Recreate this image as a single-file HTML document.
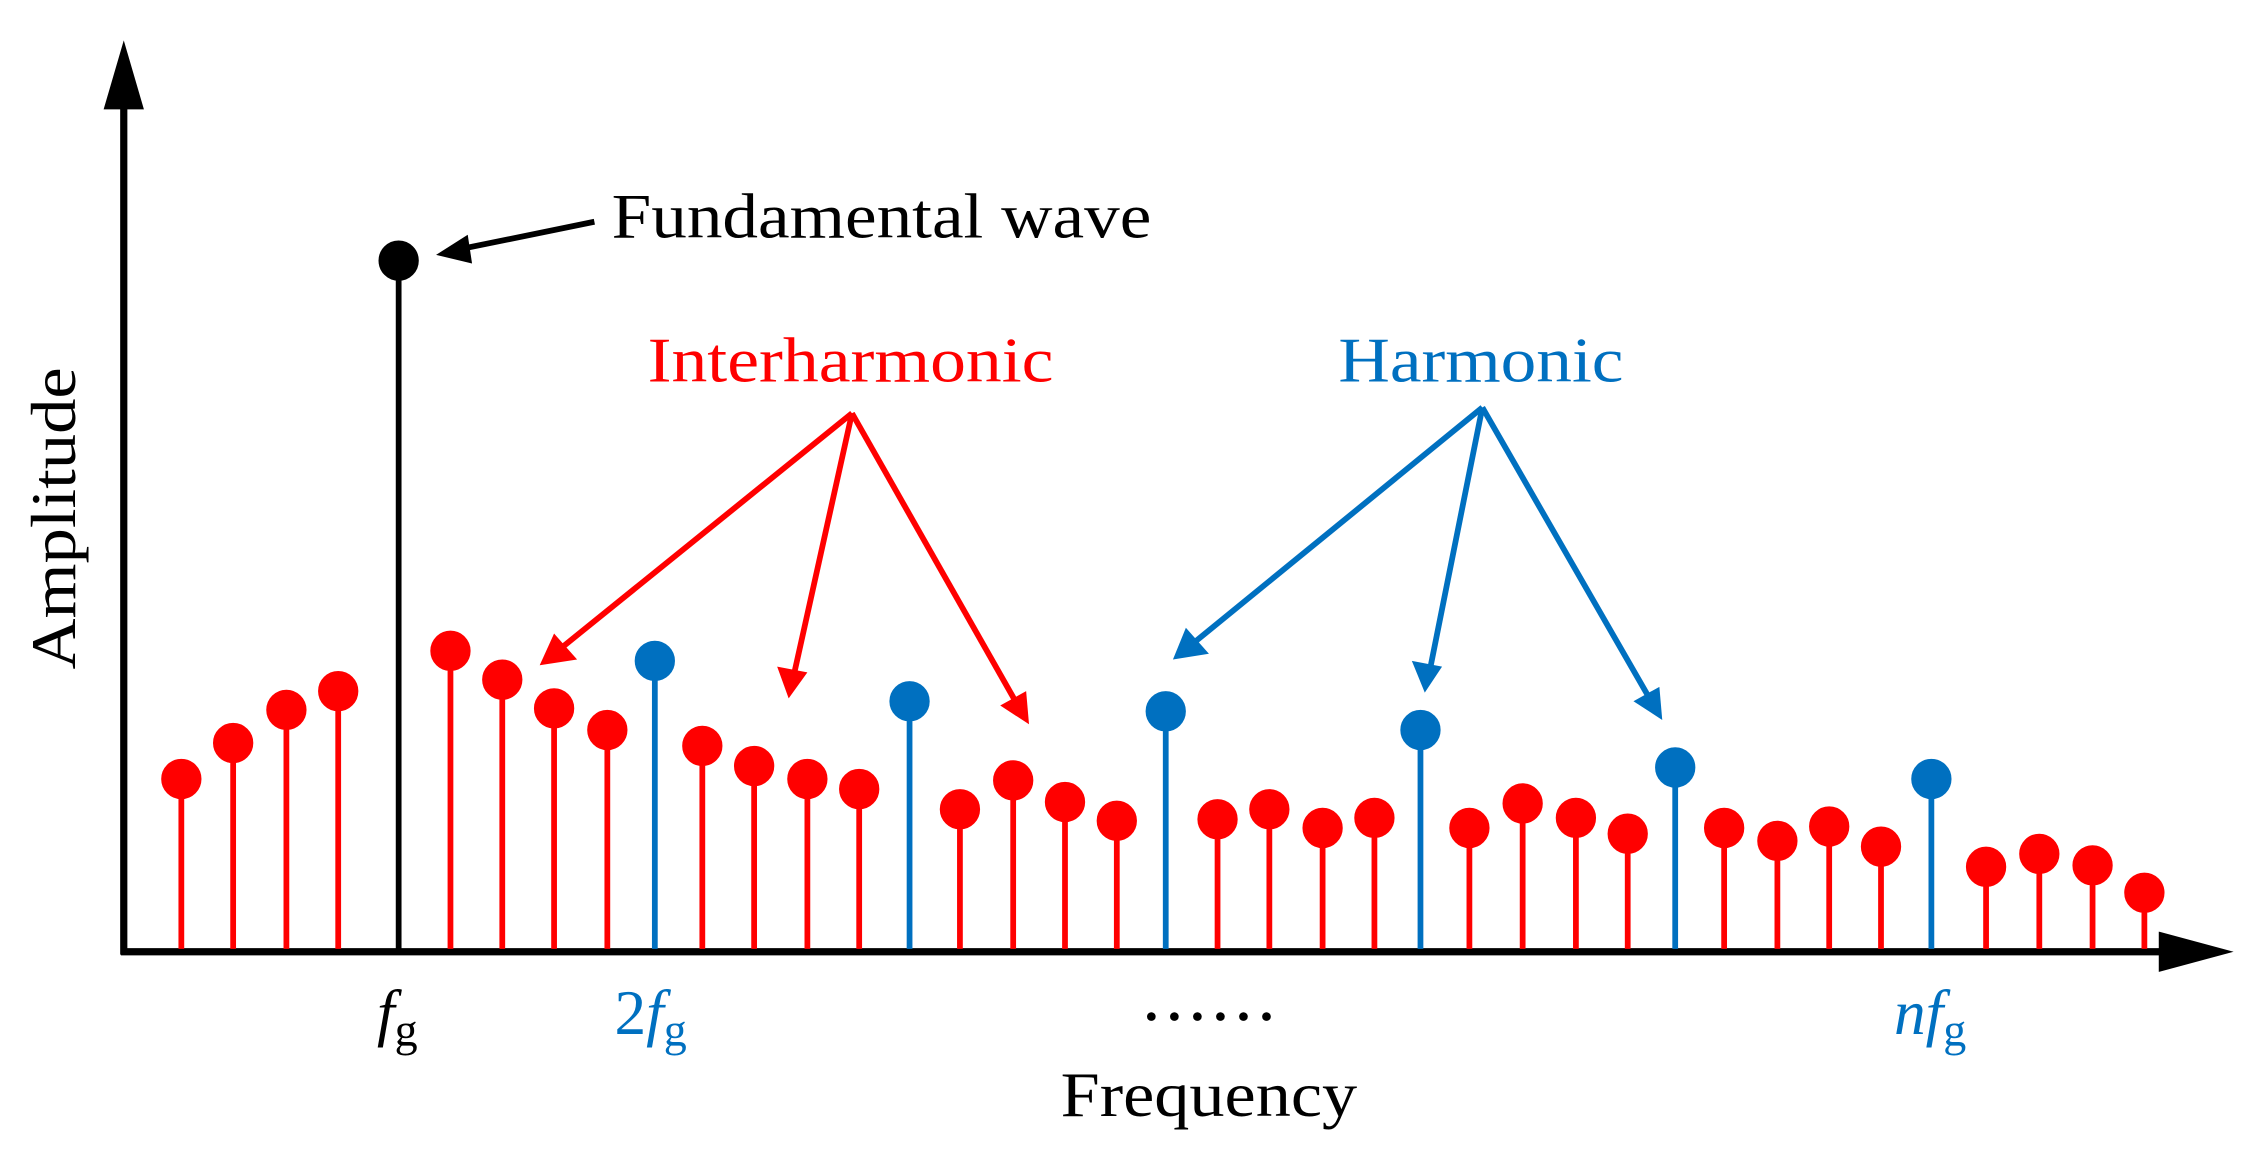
<!DOCTYPE html>
<html><head><meta charset="utf-8"><style>
html,body{margin:0;padding:0;background:#fff;}
svg{display:block;}
text{font-family:"Liberation Serif",serif;}
</style></head><body>
<svg width="2248" height="1162" viewBox="0 0 1562 807" preserveAspectRatio="none" xmlns="http://www.w3.org/2000/svg">
<!-- axes -->
<line x1="86" y1="70" x2="86" y2="663" stroke="#000" stroke-width="5"/>
<polygon points="86,28 72,76 100,76" fill="#000"/>
<line x1="84" y1="661" x2="1505" y2="661" stroke="#000" stroke-width="5"/>
<polygon points="1552,661 1500,647 1500,675" fill="#000"/>
<g stroke-width="4">
<g stroke="#ff0000" fill="#ff0000">
<line x1="126" y1="541" x2="126" y2="659"/><circle cx="126" cy="541" r="12"/>
<line x1="162" y1="516" x2="162" y2="659"/><circle cx="162" cy="516" r="12"/>
<line x1="199" y1="493" x2="199" y2="659"/><circle cx="199" cy="493" r="12"/>
<line x1="235" y1="480" x2="235" y2="659"/><circle cx="235" cy="480" r="12"/>
<line x1="313" y1="452" x2="313" y2="659"/><circle cx="313" cy="452" r="12"/>
<line x1="349" y1="472" x2="349" y2="659"/><circle cx="349" cy="472" r="12"/>
<line x1="385" y1="492" x2="385" y2="659"/><circle cx="385" cy="492" r="12"/>
<line x1="422" y1="507" x2="422" y2="659"/><circle cx="422" cy="507" r="12"/>
<line x1="488" y1="518" x2="488" y2="659"/><circle cx="488" cy="518" r="12"/>
<line x1="524" y1="532" x2="524" y2="659"/><circle cx="524" cy="532" r="12"/>
<line x1="561" y1="541" x2="561" y2="659"/><circle cx="561" cy="541" r="12"/>
<line x1="597" y1="548" x2="597" y2="659"/><circle cx="597" cy="548" r="12"/>
<line x1="667" y1="562" x2="667" y2="659"/><circle cx="667" cy="562" r="12"/>
<line x1="704" y1="542" x2="704" y2="659"/><circle cx="704" cy="542" r="12"/>
<line x1="740" y1="557" x2="740" y2="659"/><circle cx="740" cy="557" r="12"/>
<line x1="776" y1="570" x2="776" y2="659"/><circle cx="776" cy="570" r="12"/>
<line x1="846" y1="569" x2="846" y2="659"/><circle cx="846" cy="569" r="12"/>
<line x1="882" y1="562" x2="882" y2="659"/><circle cx="882" cy="562" r="12"/>
<line x1="919" y1="575" x2="919" y2="659"/><circle cx="919" cy="575" r="12"/>
<line x1="955" y1="568" x2="955" y2="659"/><circle cx="955" cy="568" r="12"/>
<line x1="1021" y1="575" x2="1021" y2="659"/><circle cx="1021" cy="575" r="12"/>
<line x1="1058" y1="558" x2="1058" y2="659"/><circle cx="1058" cy="558" r="12"/>
<line x1="1095" y1="568" x2="1095" y2="659"/><circle cx="1095" cy="568" r="12"/>
<line x1="1131" y1="579" x2="1131" y2="659"/><circle cx="1131" cy="579" r="12"/>
<line x1="1198" y1="575" x2="1198" y2="659"/><circle cx="1198" cy="575" r="12"/>
<line x1="1235" y1="584" x2="1235" y2="659"/><circle cx="1235" cy="584" r="12"/>
<line x1="1271" y1="574" x2="1271" y2="659"/><circle cx="1271" cy="574" r="12"/>
<line x1="1307" y1="588" x2="1307" y2="659"/><circle cx="1307" cy="588" r="12"/>
<line x1="1380" y1="602" x2="1380" y2="659"/><circle cx="1380" cy="602" r="12"/>
<line x1="1417" y1="593" x2="1417" y2="659"/><circle cx="1417" cy="593" r="12"/>
<line x1="1454" y1="601" x2="1454" y2="659"/><circle cx="1454" cy="601" r="12"/>
<line x1="1490" y1="620" x2="1490" y2="659"/><circle cx="1490" cy="620" r="12"/>
</g>
<g stroke="#0070c0" fill="#0070c0">
<line x1="455" y1="459" x2="455" y2="659"/><circle cx="455" cy="459" r="12"/>
<line x1="632" y1="487" x2="632" y2="659"/><circle cx="632" cy="487" r="12"/>
<line x1="810" y1="494" x2="810" y2="659"/><circle cx="810" cy="494" r="12"/>
<line x1="987" y1="507" x2="987" y2="659"/><circle cx="987" cy="507" r="12"/>
<line x1="1164" y1="533" x2="1164" y2="659"/><circle cx="1164" cy="533" r="12"/>
<line x1="1342" y1="541" x2="1342" y2="659"/><circle cx="1342" cy="541" r="12"/>
</g>
<g stroke="#000" fill="#000">
<line x1="277" y1="181" x2="277" y2="659"/><circle cx="277" cy="181" r="12"/>
</g>
</g>
<!-- arrows -->
<g stroke-width="4" fill="none">
<line x1="413" y1="154" x2="320" y2="173" stroke="#000"/>
<polygon points="303,177 325,163 328,183" fill="#000" stroke="none"/>
<g stroke="#ff0000">
<line x1="592" y1="287" x2="390" y2="450"/>
<line x1="592" y1="287" x2="552" y2="467"/>
<line x1="592" y1="287" x2="705" y2="486"/>
</g>
<g fill="#ff0000" stroke="none">
<polygon points="375,462 385,440 401,458"/>
<polygon points="548,485 540,463 561,467"/>
<polygon points="715,503 695,490 713,480"/>
</g>
<g stroke="#0070c0">
<line x1="1030" y1="283" x2="830" y2="446"/>
<line x1="1030" y1="283" x2="994" y2="463"/>
<line x1="1030" y1="283" x2="1145" y2="483"/>
</g>
<g fill="#0070c0" stroke="none">
<polygon points="815,458 824,436 840,454"/>
<polygon points="990,481 981,459 1002,463"/>
<polygon points="1155,500 1135,487 1153,477"/>
</g>
</g>
<!-- text -->
<text x="425" y="165" font-size="44" fill="#000" textLength="375" lengthAdjust="spacingAndGlyphs">Fundamental wave</text>
<text x="450" y="265" font-size="44" fill="#ff0000" textLength="282" lengthAdjust="spacingAndGlyphs">Interharmonic</text>
<text x="930" y="265" font-size="44" fill="#0070c0" textLength="198" lengthAdjust="spacingAndGlyphs">Harmonic</text>
<text transform="translate(52,465) rotate(-90)" font-size="44" fill="#000" textLength="210" lengthAdjust="spacingAndGlyphs">Amplitude</text>
<text x="737" y="775" font-size="44" fill="#000" textLength="206" lengthAdjust="spacingAndGlyphs">Frequency</text>
<text x="262" y="718" font-size="44" fill="#000"><tspan font-style="italic">f</tspan><tspan font-size="32" dy="8">g</tspan></text>
<text x="427" y="718" font-size="44" fill="#0070c0">2<tspan font-style="italic">f</tspan><tspan font-size="32" dy="8">g</tspan></text>
<text x="1316" y="718" font-size="44" fill="#0070c0"><tspan font-style="italic">nf</tspan><tspan font-size="32" dy="8">g</tspan></text>
<g fill="#000">
<circle cx="800" cy="706" r="3"/><circle cx="816" cy="706" r="3"/><circle cx="832" cy="706" r="3"/><circle cx="848" cy="706" r="3"/><circle cx="864" cy="706" r="3"/><circle cx="880" cy="706" r="3"/>
</g>
</svg>
</body></html>
